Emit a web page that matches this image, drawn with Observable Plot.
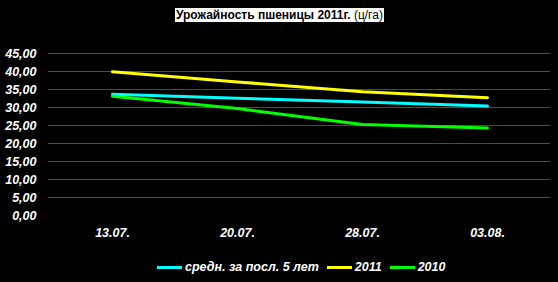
<!DOCTYPE html>
<html><head><meta charset="utf-8">
<script src="https://cdn.jsdelivr.net/npm/d3@7"></script>
<script src="https://cdn.jsdelivr.net/npm/@observablehq/plot@0.6"></script>
<style>
html,body{margin:0;padding:0;background:#000;width:558px;height:282px;overflow:hidden;font-family:"Liberation Sans",Arial,sans-serif;}
#title{height:32px;position:relative;}
#title span{position:absolute;left:175px;top:8px;background:#fff;color:#000;font-size:12px;line-height:14px;padding:0 1px;white-space:nowrap;}
#legend{position:absolute;left:157px;top:260px;display:flex;align-items:center;color:#fff;font-weight:bold;font-style:italic;font-size:12.5px;white-space:nowrap;}
#legend .sw{display:inline-block;width:25px;height:3px;margin-right:3px;}
#legend .it{display:flex;align-items:center;margin-right:8px;}
#chart{position:absolute;left:0;top:32px;}
</style></head>
<body>
<div id="title"><span><b>Урожайность пшеницы 2011г.</b> (ц/га)</span></div>
<div id="chart"></div>
<div id="legend"></div>
<script>
const dates = ["13.07.", "20.07.", "28.07.", "03.08."];
const avg5 = [33.7, 32.6, 31.5, 30.4];
const y2011 = [39.9, 37.1, 34.4, 32.7];
const y2010 = [33.1, 29.7, 25.3, 24.3];
const seriesNames = ["средн. за посл. 5 лет", "2011", "2010"];
const seriesColors = ["#00FFFF", "#FFFF00", "#00FF00"];
const yTicks = [0, 5, 10, 15, 20, 25, 30, 35, 40, 45];
const gridTicks = [5, 10, 15, 20, 25, 30, 35, 40, 45];

const seriesValues = [avg5, y2011, y2010];
const rows = [];
seriesNames.forEach((s, si) => dates.forEach((d, i) => rows.push({series: s, date: d, value: seriesValues[si][i]})));

const fmt = v => v.toFixed(2).replace(".", ",");

const plot = Plot.plot({
  width: 558,
  height: 218,
  marginLeft: 48,
  marginRight: 8,
  marginTop: 21,
  marginBottom: 35,
  style: {background: "#000", color: "#fff", fontFamily: "'Liberation Sans', Arial, sans-serif"},
  x: {type: "point", domain: dates, padding: 0.5, label: null},
  y: {domain: [0, 45], label: null},
  color: {domain: seriesNames, range: seriesColors},
  marks: [
    Plot.ruleY(gridTicks, {stroke: "#ff0000", strokeWidth: 1}),
    Plot.axisY({ticks: yTicks, tickSize: 0, tickPadding: 12, tickFormat: fmt, label: null, fontSize: 12.5, fontWeight: "bold", fontStyle: "italic", fill: "#fff"}),
    Plot.axisX({tickSize: 0, tickPadding: 13, label: null, fontSize: 12.5, fontWeight: "bold", fontStyle: "italic", fill: "#fff"}),
    Plot.line(rows, {x: "date", y: "value", z: "series", stroke: "series", strokeWidth: 3})
  ]
});
document.getElementById("chart").appendChild(plot);

const leg = document.getElementById("legend");
seriesNames.forEach((s, i) => {
  const it = document.createElement("span");
  it.className = "it";
  const sw = document.createElement("span");
  sw.className = "sw";
  sw.style.background = seriesColors[i];
  it.appendChild(sw);
  it.appendChild(document.createTextNode(s));
  leg.appendChild(it);
});
</script>
</body></html>
